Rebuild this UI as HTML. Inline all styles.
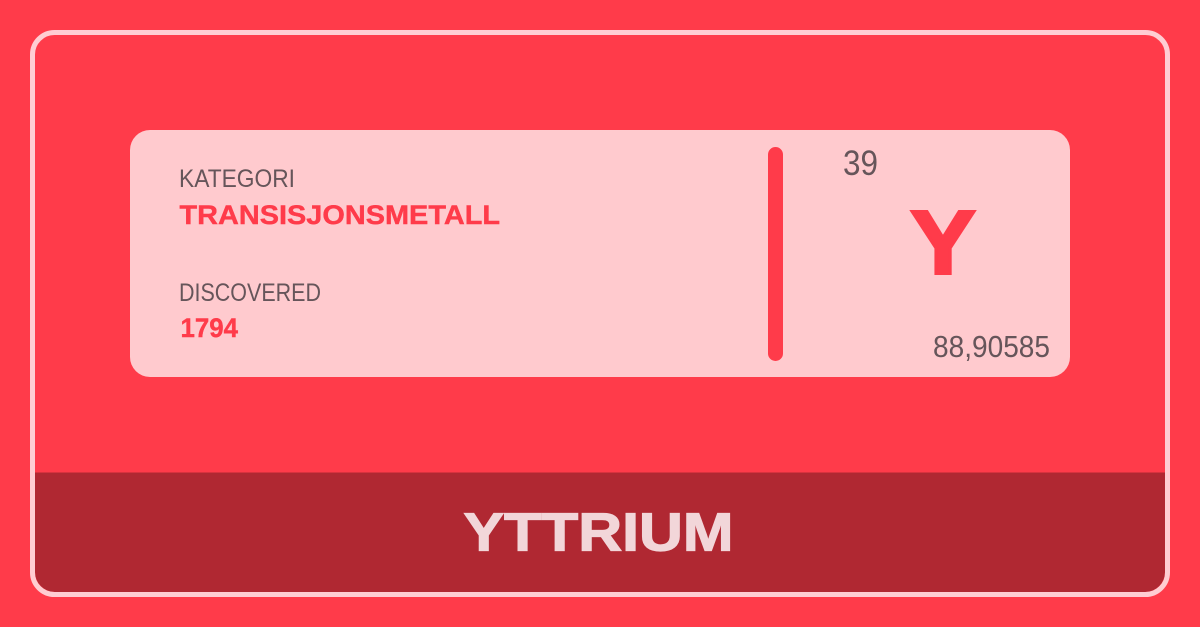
<!DOCTYPE html>
<html lang="no">
<head>
<meta charset="utf-8">
<title>Yttrium</title>
<style>
html,body{margin:0;padding:0;width:1200px;height:627px;overflow:hidden;background:#ff3b4a}
svg{display:block}
text{font-family:"Liberation Sans",sans-serif}
</style>
</head>
<body>
<svg width="1200" height="627" viewBox="0 0 1200 627" xmlns="http://www.w3.org/2000/svg">
  <rect x="0" y="0" width="1200" height="627" fill="#ff3b4a"/>
  <path d="M35 472.5H1165V572a20 20 0 0 1 -20 20H55a20 20 0 0 1 -20 -20Z" fill="#b02832"/>
  <rect x="32.5" y="32.5" width="1135" height="562" rx="22" ry="22" fill="none" stroke="#ffcdd2" stroke-width="5"/>
  <rect x="130" y="130" width="940" height="247" rx="20" ry="20" fill="#ffcace"/>
  <rect x="768" y="147" width="15" height="214" rx="7.5" ry="7.5" fill="#ff3b4a"/>

  <text x="179" y="187" font-size="25" fill="#66555a" textLength="116" lengthAdjust="spacingAndGlyphs">KATEGORI</text>
  <text x="179.5" y="223.8" font-size="27" font-weight="700" fill="#ff3b4a" stroke="#ff3b4a" stroke-width="0.4" textLength="320.5" lengthAdjust="spacingAndGlyphs">TRANSISJONSMETALL</text>
  <text x="179" y="301" font-size="25" fill="#66555a" textLength="142" lengthAdjust="spacingAndGlyphs">DISCOVERED</text>
  <text x="180.5" y="336.8" font-size="27" font-weight="700" fill="#ff3b4a" stroke="#ff3b4a" stroke-width="0.4" textLength="57.5" lengthAdjust="spacingAndGlyphs">1794</text>

  <text x="843" y="175" font-size="35" fill="#66555a" textLength="35" lengthAdjust="spacingAndGlyphs">39</text>
  <text x="910.5" y="273.5" font-size="90" font-weight="700" fill="#ff3b4a" stroke="#ff3b4a" stroke-width="3" textLength="65" lengthAdjust="spacingAndGlyphs">Y</text>
  <text x="933" y="357" font-size="31" fill="#66555a" textLength="117" lengthAdjust="spacingAndGlyphs">88,90585</text>

  <text x="463.5" y="550.5" font-size="54" font-weight="700" fill="#f2d6d9" stroke="#f2d6d9" stroke-width="1.2" textLength="270" lengthAdjust="spacingAndGlyphs">YTTRIUM</text>
</svg>
</body>
</html>
